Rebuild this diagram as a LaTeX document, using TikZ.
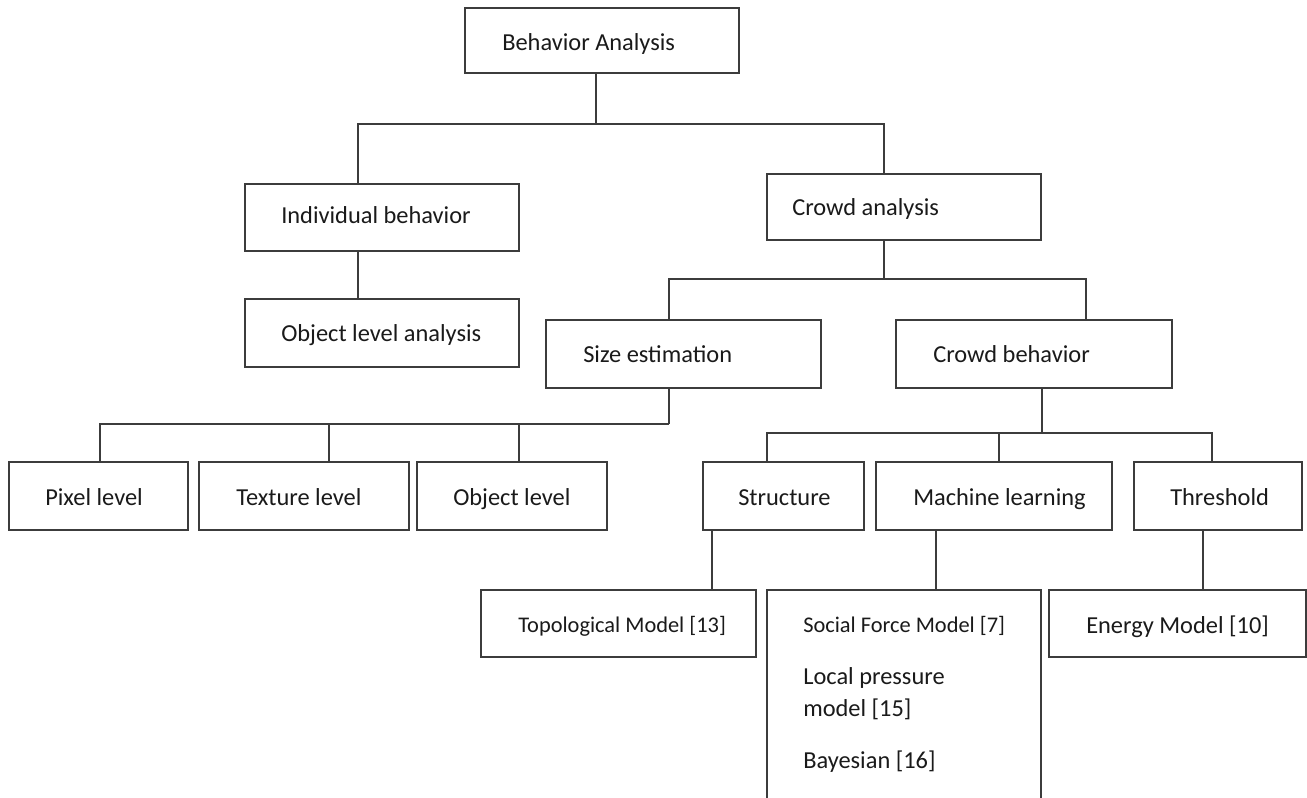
\documentclass[tikz,border=0pt]{standalone}
\usepackage{fontspec}
\setmainfont{Carlito}
\usetikzlibrary{fit}
\definecolor{ln}{HTML}{3C3C3C}
\definecolor{tx}{HTML}{1A1A1A}
\begin{document}
\begin{tikzpicture}[x=0.75pt,y=-0.75pt,
  box/.style={draw=ln, line width=1.3pt, inner sep=0pt},
  conn/.style={draw=ln, line width=1.3pt},
  lbl/.style={anchor=base west, inner sep=0pt, text=tx, font=\fontsize{18.3}{22}\selectfont},
  slbl/.style={lbl, font=\fontsize{16.8}{20}\selectfont}]
\useasboundingbox (0,0) rectangle (1307,798);
\clip (0,0) rectangle (1307,798);
\fill[white] (0,0) rectangle (1307,798);

% boxes
\node[box, fit={(465,8) (739,73)}] (ba) {};
\node[box, fit={(245,184) (519,251)}] (ib) {};
\node[box, fit={(245,299) (519,367)}] (ola) {};
\node[box, fit={(767,174) (1041,240)}] (ca) {};
\node[box, fit={(546,320) (821,388)}] (se) {};
\node[box, fit={(896,320) (1172,388)}] (cb) {};
\node[box, fit={(9,462) (188,530)}] (pl) {};
\node[box, fit={(199,462) (409,530)}] (tl) {};
\node[box, fit={(417,462) (607,530)}] (ol) {};
\node[box, fit={(703,462) (864,530)}] (st) {};
\node[box, fit={(876,462) (1112,530)}] (ml) {};
\node[box, fit={(1134,462) (1302,530)}] (th) {};
\node[box, fit={(481,590) (756,657)}] (tm) {};
\node[box, fit={(767,590) (1041,830)}] (mm) {};
\node[box, fit={(1049,590) (1306,657)}] (em) {};

% texts
\node[lbl] (ba-t) at (502,51) {Behavior Analysis};
\node[lbl] (ib-t) at (281,224) {Individual behavior};
\node[lbl] (ola-t) at (281,342) {Object level analysis};
\node[lbl] (ca-t) at (792,216) {Crowd analysis};
\node[lbl] (se-t) at (583,363) {Size estimation};
\node[lbl] (cb-t) at (933,363) {Crowd behavior};
\node[lbl] (pl-t) at (45,505) {Pixel level};
\node[lbl] (tl-t) at (236,505) {Texture level};
\node[lbl] (ol-t) at (453,505) {Object level};
\node[lbl] (st-t) at (738,505) {Structure};
\node[lbl] (ml-t) at (913,505) {Machine learning};
\node[lbl] (th-t) at (1170,505) {Threshold};
\node[slbl] (tm-t) at (518,632) {Topological Model [13]};
\node[slbl] (sf-t) at (803,632) {Social Force Model [7]};
\node[lbl] (lp-t) at (803,684) {Local pressure};
\node[lbl] (lp2-t) at (803,716) {model [15]};
\node[lbl] (by-t) at (803,768) {Bayesian [16]};
\node[lbl] (em-t) at (1086,633) {Energy Model [10]};

% connectors
\draw[conn] (ba.south -| 596,0) -- (596,124);
\draw[conn] (ib.north -| 358,0) -- (358,124) -- (884,124) -- (ca.north -| 884,0);
\draw[conn] (ib.south -| 358,0) -- (ola.north -| 358,0);
\draw[conn] (ca.south -| 884,0) -- (884,279);
\draw[conn] (se.north -| 669,0) -- (669,279) -- (1086,279) -- (cb.north -| 1086,0);
\draw[conn] (se.south -| 669,0) -- (669,424);
\draw[conn] (pl.north -| 100,0) -- (100,424) -- (669,424);
\draw[conn] (tl.north -| 329,0) -- (329,424);
\draw[conn] (ol.north -| 519,0) -- (519,424);
\draw[conn] (cb.south -| 1042,0) -- (1042,433);
\draw[conn] (st.north -| 767,0) -- (767,433) -- (1212,433) -- (th.north -| 1212,0);
\draw[conn] (ml.north -| 999,0) -- (999,433);
\draw[conn] (st.south -| 712,0) -- (tm.north -| 712,0);
\draw[conn] (ml.south -| 936,0) -- (mm.north -| 936,0);
\draw[conn] (th.south -| 1203,0) -- (em.north -| 1203,0);
\end{tikzpicture}
\end{document}
